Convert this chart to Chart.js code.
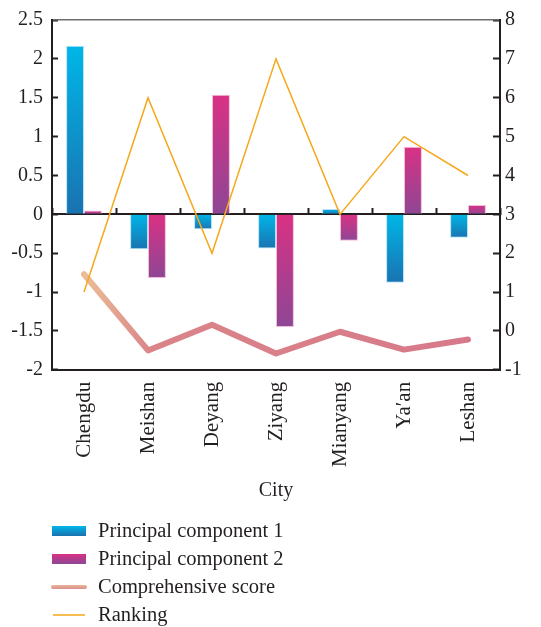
<!DOCTYPE html>
<html>
<head>
<meta charset="utf-8">
<script src="https://cdn.jsdelivr.net/npm/chart.js@4/dist/chart.umd.min.js"></script>
<style>
  html, body { margin: 0; padding: 0; background: #ffffff; }
  #wrap { width: 541px; height: 627px; }
</style>
</head>
<body>
<div id="wrap"><canvas id="scoreChart" width="541" height="627"></canvas></div>
<script>
// PCA scores by city - bars on left axis, ranking on right axis

const cities = ['Chengdu', 'Meishan', 'Deyang', 'Ziyang', 'Mianyang', 'Ya\u2032an', 'Leshan'];
const pc1 = [2.17, -0.45, -0.19, -0.44, 0.07, -0.88, -0.30];
const pc2 = [0.05, -0.82, 1.54, -1.45, -0.34, 0.87, 0.12];
const compScore = [-0.77, -1.75, -1.42, -1.79, -1.51, -1.74, -1.61];
const ranking = [1, 6, 2, 7, 3, 5, 4];

const FONT = '"Liberation Serif", "Times New Roman", serif';
const INK = '#231f20';

// vertical gradient per bar, from the bar's top edge to its bottom edge
function barFill(top, bottom) {
    return function (c) {
        const chart = c.chart;
        const y = chart.scales.y;
        if (c.type !== 'data' || !y || !chart.chartArea) return top;
        const p0 = y.getPixelForValue(0);
        const p1 = y.getPixelForValue(c.parsed.y);
        const g = chart.ctx.createLinearGradient(0, Math.min(p0, p1), 0, Math.max(p0, p1) + 0.5);
        g.addColorStop(0, top);
        g.addColorStop(1, bottom);
        return g;
    };
}

function scoreStroke(c) {
    const a = c.chart.chartArea;
    if (!a) return '#d87a88';
    const g = c.chart.ctx.createLinearGradient(a.left, 0, a.right, 0);
    g.addColorStop(0, '#ecc098');
    g.addColorStop(0.08, '#eabc96');
    g.addColorStop(0.22, '#da8489');
    g.addColorStop(1, '#d6788a');
    return g;
}

// legend stacked one item per row under the axis title
const stackLegend = {
    id: 'stackLegend',
    afterDraw(chart) {
        const ctx = chart.ctx;
        const x0 = chart.chartArea.left;
        const rowTop = chart.height - 96;
        ctx.save();
        ctx.font = '20.5px ' + FONT;
        ctx.fillStyle = INK;
        ctx.textBaseline = 'middle';
        chart.data.datasets.forEach((ds, i) => {
            const y = rowTop + i * 28;
            if (ds.type === 'bar') {
                const g = ctx.createLinearGradient(0, y - 5, 0, y + 5);
                g.addColorStop(0, ds.legendTop);
                g.addColorStop(1, ds.legendBottom);
                ctx.fillStyle = g;
                ctx.fillRect(x0, y - 5, 34, 10);
            } else {
                ctx.beginPath();
                ctx.moveTo(x0 + 1, y);
                ctx.lineTo(x0 + 33, y);
                ctx.lineCap = ds.borderWidth > 3 ? 'round' : 'butt';
                ctx.lineWidth = ds.borderWidth > 3 ? 4 : 1.5;
                if (ds.borderWidth > 3) {
                    const g = ctx.createLinearGradient(0, y - 2, 0, y + 2);
                    g.addColorStop(0, '#e8b898');
                    g.addColorStop(1, '#dc8c8c');
                    ctx.strokeStyle = g;
                } else {
                    ctx.strokeStyle = ds.borderColor;
                }
                ctx.stroke();
            }
            ctx.fillStyle = INK;
            ctx.fillText(ds.label, x0 + 46, y + 1);
        });
        ctx.restore();
    }
};

const tickFont = { family: FONT, size: 20 };
const plainNum = v => String(v);

// fixed axis widths, no extra room above/below for the end labels
function fixWidth(w) {
    return s => { s.width = w; s.paddingTop = 0; s.paddingBottom = 0; };
}

const chart = new Chart(document.getElementById('scoreChart'), {
    data: {
        labels: cities,
        datasets: [
            {
                type: 'bar', label: 'Principal component 1', data: pc1,
                backgroundColor: barFill('#00b6e8', '#1a72b0'),
                borderColor: 'rgba(160, 222, 245, 0.8)', borderWidth: 1,
                legendTop: '#00b6e8', legendBottom: '#1a72b0',
                barPercentage: 1, categoryPercentage: 0.56, order: 3
            },
            {
                type: 'bar', label: 'Principal component 2', data: pc2,
                backgroundColor: barFill('#da3184', '#8c4795'),
                borderColor: 'rgba(240, 170, 205, 0.8)', borderWidth: 1,
                legendTop: '#da3184', legendBottom: '#8c4795',
                barPercentage: 1, categoryPercentage: 0.56, order: 3
            },
            {
                type: 'line', label: 'Comprehensive score', data: compScore,
                borderColor: scoreStroke, borderWidth: 6,
                borderCapStyle: 'round', borderJoinStyle: 'round',
                pointRadius: 0, tension: 0, fill: false, order: 2
            },
            {
                type: 'line', label: 'Ranking', data: ranking, yAxisID: 'y2',
                borderColor: '#f6a81a', borderWidth: 1.5,
                pointRadius: 0, tension: 0, fill: false, order: 1
            }
        ]
    },
    options: {
        responsive: false,
        animation: false,
        layout: { padding: { left: 8, right: 20, top: 20, bottom: 124 } },
        plugins: {
            legend: { display: false },
            tooltip: { enabled: false }
        },
        scales: {
            x: {
                type: 'category', position: 'bottom', offset: true,
                grid: { display: false, drawTicks: false },
                border: { display: true, color: INK, width: 2 },
                ticks: { minRotation: 90, maxRotation: 90, autoSkip: false, padding: 12, color: INK, font: { family: FONT, size: 21 } },
                title: { display: true, text: 'City', color: INK, font: { family: FONT, size: 20 }, padding: { top: 0, bottom: 0 } }
            },
            xZero: {
                type: 'category', position: { y: 0 }, offset: true,
                grid: { offset: true, drawOnChartArea: false, tickLength: -7, tickWidth: 2, tickColor: INK },
                border: { display: true, color: INK, width: 2 },
                ticks: { display: false }
            },
            xTop: {
                type: 'category', position: 'top', offset: true,
                afterFit: s => { s.height = 0; },
                grid: { display: false, drawTicks: false },
                border: { display: true, color: '#6d6e70', width: 1.5 },
                ticks: { display: false }
            },
            y: {
                position: 'left', min: -2, max: 2.5,
                afterFit: fixWidth(44),
                ticks: { stepSize: 0.5, padding: 15, color: INK, font: tickFont, callback: plainNum },
                grid: { drawOnChartArea: false, tickLength: -6, tickWidth: 2, tickColor: INK },
                border: { display: true, color: INK, width: 2 }
            },
            y2: {
                position: 'right', min: -1, max: 8,
                afterFit: fixWidth(21),
                ticks: { stepSize: 1, padding: 12, color: INK, font: tickFont, callback: plainNum },
                grid: { drawOnChartArea: false, tickLength: -7, tickWidth: 2, tickColor: INK },
                border: { display: true, color: INK, width: 2 }
            }
        }
    },
    plugins: [stackLegend]
});
</script>
</body>
</html>
